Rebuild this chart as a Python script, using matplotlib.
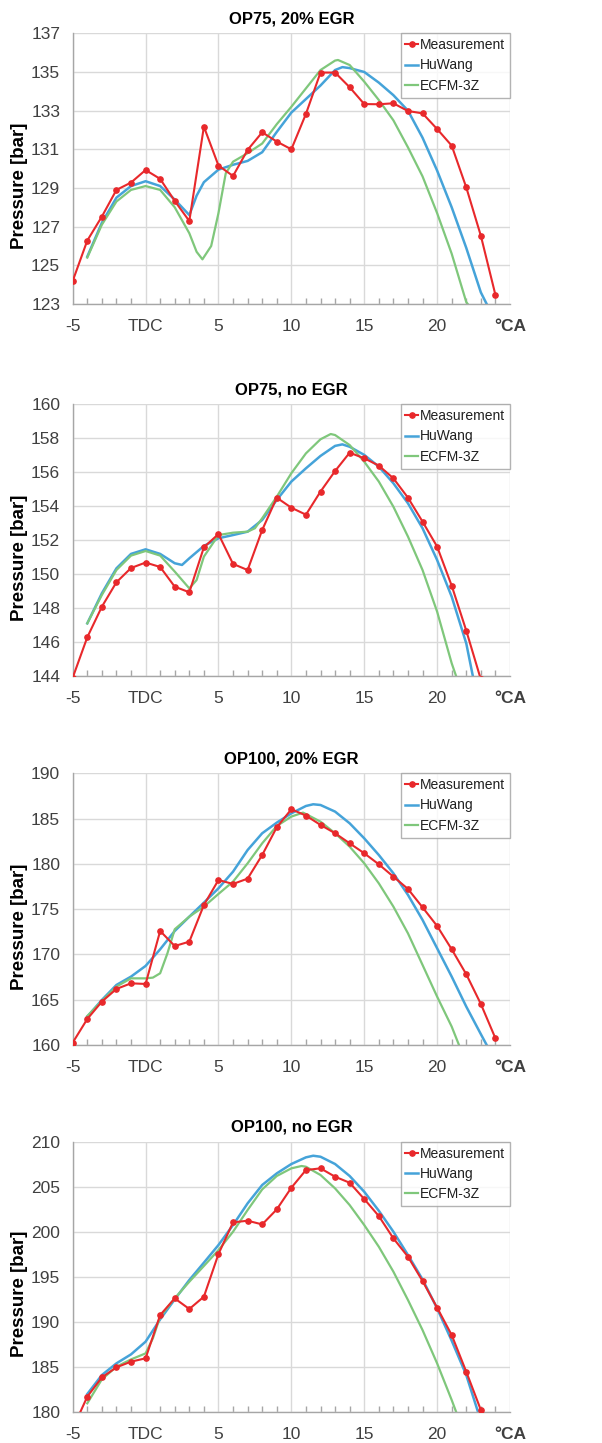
import numpy as np
import matplotlib
matplotlib.use("Agg")
import matplotlib.pyplot as plt
from matplotlib.ticker import MultipleLocator

plt.rcParams['font.family'] = ['Liberation Sans', 'DejaVu Sans']

# ---- data (crank angle in deg, pressure in bar) ----
titles = ['OP75, 20% EGR', 'OP75, no EGR', 'OP100, 20% EGR', 'OP100, no EGR']
y_limits = [(123, 137), (144, 160), (160, 190), (180, 210)]
y_steps = [2, 2, 5, 5]
x_ticklabels = ['-5', 'TDC', '5', '10', '15', '20', '°CA']

# OP75, 20% EGR
meas1_x = list(range(-5, 25))
meas1_p = [124.19, 126.28, 127.52, 128.90, 129.28, 129.93, 129.47, 128.33, 127.29, 132.17,
           130.16, 129.62, 130.97, 131.88, 131.40, 131.00, 132.83, 134.97, 134.97, 134.21,
           133.34, 133.33, 133.38, 132.98, 132.86, 132.05, 131.19, 129.03, 126.53, 123.47]
hu1_x = [-4, -3, -2, -1, 0, 1, 2, 3, 3.5, 4, 5, 6, 7, 8, 9, 10, 11, 12, 13, 13.5,
         14, 15, 16, 17, 18, 19, 20, 21, 22, 23, 23.4]
hu1_p = [125.45, 127.2, 128.5, 129.1, 129.35, 129.1, 128.4, 127.6, 128.6, 129.3, 129.95,
         130.2, 130.4, 130.85, 131.9, 132.9, 133.6, 134.3, 135.1, 135.25,
         135.2, 135.0, 134.45, 133.8, 133.0, 131.6, 129.9, 128.0, 125.9, 123.6, 123.0]
ec1_x = [-4, -3, -2, -1, 0, 1, 2, 3, 3.5, 3.9, 4.5, 5, 5.5, 6, 7, 8, 9, 10, 11, 12,
         13, 13.2, 14, 15, 16, 17, 18, 19, 20, 21, 22, 22.1]
ec1_p = [125.4, 127.1, 128.3, 128.9, 129.1, 128.9, 128.0, 126.66, 125.7, 125.31, 126.0,
         127.7, 129.76, 130.36, 130.8, 131.3, 132.3, 133.2, 134.15, 135.1,
         135.59, 135.62, 135.36, 134.5, 133.55, 132.5, 131.1, 129.6, 127.7, 125.6, 123.1, 123.0]

# OP75, no EGR
meas2_x = list(range(-5, 24))
meas2_p = [143.9, 146.28, 148.08, 149.52, 150.36, 150.68, 150.42, 149.26, 148.93, 151.58,
           152.36, 150.60, 150.24, 152.60, 154.50, 153.91, 153.50, 154.86, 156.07, 157.15,
           156.82, 156.39, 155.64, 154.50, 153.09, 151.62, 149.32, 146.67, 143.8]
hu2_x = [-4, -3, -2, -1, 0, 1, 2, 2.5, 3, 4, 5, 6, 7, 8, 9, 10, 11, 12, 13, 13.5,
         14, 15, 16, 17, 18, 19, 20, 21, 22, 22.45]
hu2_p = [147.1, 148.87, 150.34, 151.19, 151.46, 151.19, 150.64, 150.54, 150.93, 151.66,
         152.11, 152.3, 152.5, 153.19, 154.37, 155.45, 156.23, 156.96, 157.55, 157.64,
         157.5, 157.02, 156.33, 155.35, 154.17, 152.7, 150.83, 148.67, 145.92, 144.0]
ec2_x = [-4, -3, -2, -1, 0, 1, 2, 3, 3.5, 4, 5, 6, 7, 7.5, 8, 9, 10, 11, 12, 12.7,
         13, 14, 15, 16, 17, 18, 19, 20, 21, 21.3]
ec2_p = [147.1, 148.77, 150.24, 151.09, 151.36, 151.09, 150.15, 149.16, 149.65, 151.03,
         152.3, 152.44, 152.5, 152.7, 153.29, 154.56, 155.94, 157.11, 157.94, 158.25,
         158.19, 157.6, 156.62, 155.45, 153.97, 152.21, 150.24, 147.79, 144.75, 144.0]

# OP100, 20% EGR
meas3_x = list(range(-5, 25))
meas3_p = [160.26, 162.87, 164.79, 166.19, 166.81, 166.74, 172.59, 170.93, 171.41, 175.46,
           178.22, 177.78, 178.37, 180.98, 184.04, 186.03, 185.33, 184.30, 183.38, 182.27,
           181.17, 179.95, 178.59, 177.23, 175.20, 173.14, 170.57, 167.81, 164.53, 160.74]
hu3_x = [-4, -3, -2, -1, 0, 1, 2, 3, 4, 5, 6, 7, 8, 9, 10, 11, 11.5, 12, 13, 14,
         15, 16, 17, 18, 19, 20, 21, 22, 23, 23.4]
hu3_p = [163.13, 164.97, 166.63, 167.55, 168.73, 170.57, 172.59, 174.17, 175.72, 177.3,
         179.14, 181.53, 183.38, 184.55, 185.58, 186.39, 186.58, 186.5, 185.77, 184.48,
         182.82, 180.98, 178.96, 176.57, 173.81, 170.68, 167.55, 164.24, 161.2, 160.0]
ec3_x = [-4, -3, -2, -1, 0, 0.5, 1, 1.5, 2, 3, 4, 5, 6, 7, 8, 9, 10, 10.8, 11, 12,
         13, 14, 15, 16, 17, 18, 19, 20, 21, 21.5]
ec3_p = [163.2, 164.86, 166.45, 167.36, 167.36, 167.44, 167.92, 170.13, 172.78, 174.17,
         175.28, 176.68, 178.04, 180.06, 182.27, 184.18, 185.22, 185.66, 185.5, 184.66,
         183.38, 181.9, 180.06, 177.85, 175.28, 172.33, 168.84, 165.34, 162.03, 160.0]

# OP100, no EGR
meas4_x = list(range(-5, 24))
meas4_p = [178.1, 181.67, 183.81, 184.93, 185.56, 185.93, 190.74, 192.59, 191.41, 192.78,
           197.52, 201.04, 201.22, 200.81, 202.48, 204.89, 206.85, 207.04, 206.11, 205.44,
           203.63, 201.74, 199.26, 197.22, 194.52, 191.56, 188.52, 184.44, 180.19]
hu4_x = [-4, -3, -2, -1, 0, 1, 2, 3, 4, 5, 6, 7, 8, 9, 10, 11, 11.5, 12, 13, 14,
         15, 16, 17, 18, 19, 20, 21, 22, 22.8]
hu4_p = [181.96, 184.07, 185.37, 186.37, 187.78, 190.26, 192.48, 194.63, 196.56, 198.52,
         200.74, 203.15, 205.19, 206.48, 207.52, 208.26, 208.44, 208.33, 207.52, 206.19,
         204.44, 202.33, 200.0, 197.41, 194.7, 191.48, 187.89, 184.07, 180.0]
ec4_x = [-4, -3, -2, -1, 0, 0.5, 1, 2, 3, 4, 5, 6, 7, 8, 9, 10, 10.7, 11, 12, 13,
         14, 15, 16, 17, 18, 19, 20, 21, 21.3]
ec4_p = [180.93, 183.59, 185.0, 185.81, 186.48, 188.15, 190.56, 192.59, 194.44, 196.19,
         197.96, 200.0, 202.41, 204.7, 206.19, 207.04, 207.3, 207.22, 206.3, 204.81,
         202.96, 200.74, 198.33, 195.56, 192.41, 189.07, 185.37, 181.3, 180.0]

panels = [
    (meas1_x, meas1_p, hu1_x, hu1_p, ec1_x, ec1_p),
    (meas2_x, meas2_p, hu2_x, hu2_p, ec2_x, ec2_p),
    (meas3_x, meas3_p, hu3_x, hu3_p, ec3_x, ec3_p),
    (meas4_x, meas4_p, hu4_x, hu4_p, ec4_x, ec4_p),
]

# ---- layout (pixel positions of plot areas in the 602x1443 picture) ----
W, H = 602, 1443
left_px, right_px = 72.7, 510
tops_px = [33.3, 404.3, 773.3, 1141.7]
bottoms_px = [304, 676, 1045, 1411.7]

red = '#e8282b'
blue = '#45a3d9'
green = '#7fc77b'
grid_col = '#d9d9d9'
axis_col = '#a6a6a6'
txt_col = '#404040'

fig = plt.figure(figsize=(W / 100, H / 100), dpi=100)

for i, (mx, mp, hx, hp, ex, ep) in enumerate(panels):
    ax = fig.add_axes([left_px / W, 1 - bottoms_px[i] / H,
                       (right_px - left_px) / W, (bottoms_px[i] - tops_px[i]) / H])

    ax.plot(mx, mp, color=red, lw=1.5, marker='o', ms=3.8, label='Measurement',
            zorder=3, clip_on=True)
    ax.plot(hx, hp, color=blue, lw=1.8, label='HuWang', zorder=2)
    ax.plot(ex, ep, color=green, lw=1.6, label='ECFM-3Z', zorder=2)

    lo, hi = y_limits[i]
    ax.set_xlim(-5, 25)
    ax.set_ylim(lo, hi)
    ax.set_yticks(np.arange(lo, hi + 0.1, y_steps[i]))
    ax.set_xticks([-5, 0, 5, 10, 15, 20, 25])
    ax.set_xticklabels(x_ticklabels)
    ax.xaxis.set_minor_locator(MultipleLocator(1))
    ax.get_xticklabels()[-1].set_fontweight('bold')
    ax.get_xticklabels()[-1].set_color('#222222')

    ax.grid(True, which='major', color=grid_col, lw=1.0, zorder=0)
    ax.set_axisbelow(True)
    for side in ['top', 'right']:
        ax.spines[side].set_visible(False)
    for side in ['left', 'bottom']:
        ax.spines[side].set_color(axis_col)
        ax.spines[side].set_linewidth(1.0)

    ax.tick_params(axis='both', which='major', length=0, labelsize=12.5,
                   labelcolor=txt_col)
    ax.tick_params(axis='x', which='major', pad=11)
    ax.tick_params(axis='y', which='major', pad=9)
    ax.tick_params(axis='x', which='minor', direction='in', length=4,
                   color=axis_col, width=1.0)

    ax.set_title(titles[i], fontsize=12, fontweight='bold', pad=7)
    ax.set_ylabel('Pressure [bar]', fontsize=13.5, fontweight='bold')
    # label sits a bit right of and below the axes middle in the reference
    ax.yaxis.set_label_coords(-0.103, 0.435)

    leg = ax.legend(loc='upper right', bbox_to_anchor=(1.0, 1.0), borderaxespad=0,
                    fontsize=10, frameon=True, fancybox=False, handlelength=0.9,
                    handletextpad=0.15, labelspacing=0.45, borderpad=0.35,
                    numpoints=1)
    leg.get_frame().set_edgecolor('#a0a0a0')
    leg.get_frame().set_linewidth(1.0)
    for t in leg.get_texts():
        t.set_color('#202020')

fig.savefig('out.png', dpi=100)
